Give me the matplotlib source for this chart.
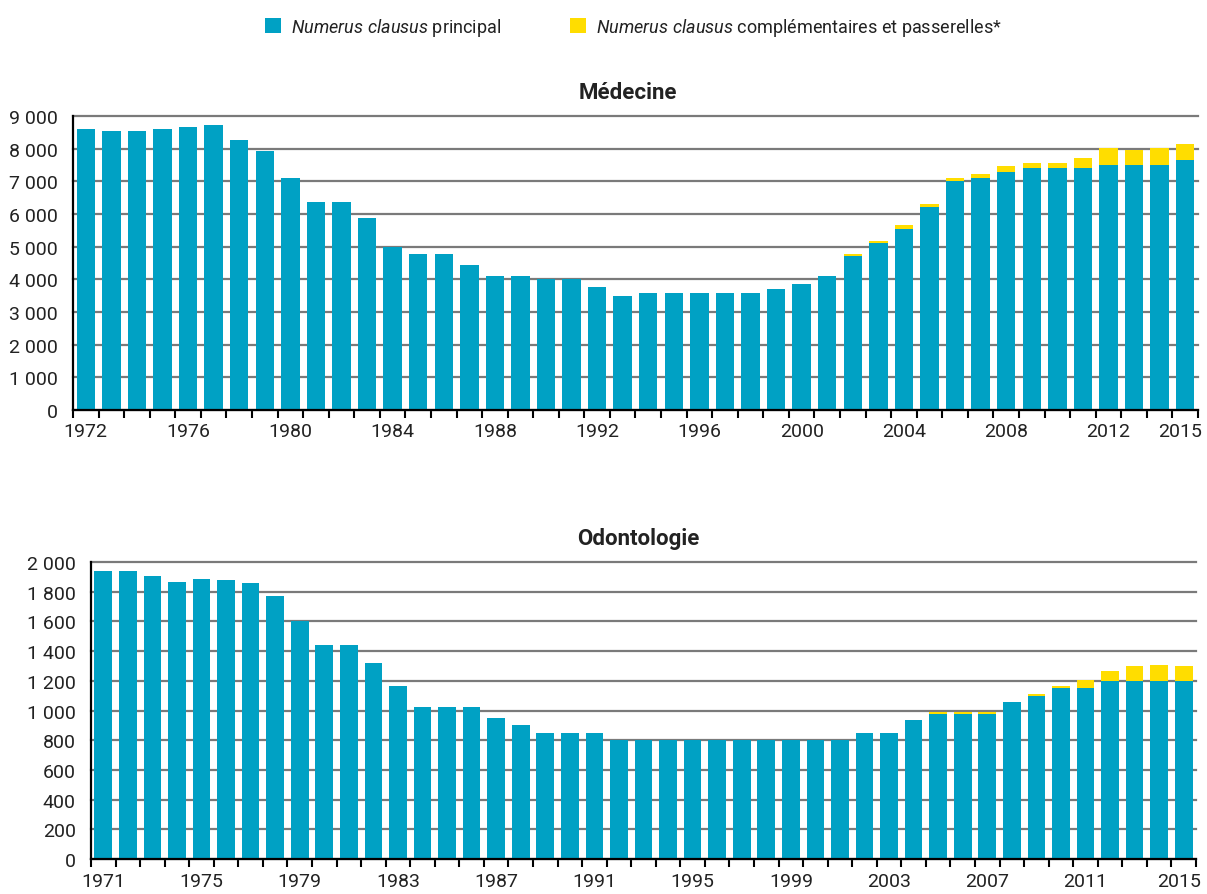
import matplotlib
matplotlib.use("Agg")
import matplotlib.pyplot as plt
import matplotlib.transforms as mtransforms
import numpy as np
from matplotlib.ticker import FixedLocator, FuncFormatter

# Médecine, 1972-2015
med_years = list(range(1972, 2016))
med_principal = [8588, 8550, 8550, 8600, 8660, 8730, 8260, 7930, 7100, 6380,
                 6380, 5880, 5000, 4760, 4760, 4450, 4100, 4100, 4000, 4000,
                 3750, 3500, 3570, 3570, 3570, 3570, 3570, 3700, 3850, 4100,
                 4700, 5100, 5550, 6200, 7000, 7100, 7300, 7400, 7400, 7400,
                 7500, 7500, 7500, 7640]
med_compl = [0] * 30 + [60, 60, 100, 110, 110, 120, 160, 150, 150, 320,
                        510, 470, 510, 490]
med_labels = [1972, 1976, 1980, 1984, 1988, 1992, 1996, 2000, 2004, 2008, 2012, 2015]

# Odontologie, 1971-2015
odo_years = list(range(1971, 2016))
odo_principal = [1940, 1940, 1905, 1865, 1885, 1880, 1860, 1770, 1600, 1440,
                 1440, 1320, 1165, 1025, 1025, 1025, 950, 900, 850, 850,
                 850, 800, 800, 800, 800, 800, 800, 800, 800, 800,
                 800, 850, 850, 935, 977, 977, 977, 1055, 1100, 1155,
                 1155, 1200, 1200, 1200, 1200]
odo_compl = [0] * 34 + [12, 12, 12, 0, 10, 10, 50, 65, 100, 108, 100]
odo_labels = [1971, 1975, 1979, 1983, 1987, 1991, 1995, 1999, 2003, 2007, 2011, 2015]

BLUE = "#00a1c4"
YELLOW = "#ffdd00"
GRID = "#7a7a7a"
TXT = "#222222"

plt.rcParams["font.family"] = ["Roboto", "DejaVu Sans"]
plt.rcParams["mathtext.fontset"] = "custom"
plt.rcParams["mathtext.it"] = "Roboto:italic"
plt.rcParams["mathtext.rm"] = "Roboto"
plt.rcParams["text.color"] = TXT

fig = plt.figure(figsize=(12.07, 8.95), dpi=100)
ax1 = fig.add_axes([0.0605, 0.5408, 0.932, 0.3285])
ax2 = fig.add_axes([0.0754, 0.0391, 0.9155, 0.3318])


def thousands(v, pos):
    return f"{int(v):,}".replace(",", " ")


def draw(ax, years, principal, compl, labels, ymax, ystep, title, title_x):
    years = np.array(years)
    principal = np.array(principal)
    compl = np.array(compl)
    ax.bar(years, principal, width=0.72, color=BLUE, zorder=2,
           label=r"$\it{Numerus\ clausus}$ principal")
    ax.bar(years, compl, width=0.72, bottom=principal, color=YELLOW, zorder=2,
           label=r"$\it{Numerus\ clausus}$ complémentaires et passerelles*")
    ax.set_xlim(years[0] - 0.5, years[-1] + 0.5)
    ax.set_ylim(0, ymax)
    ax.set_yticks(np.arange(0, ymax + 1, ystep))
    ax.yaxis.set_major_formatter(FuncFormatter(thousands))
    ax.set_xticks(labels)
    ax.xaxis.set_minor_locator(FixedLocator(np.arange(years[0] - 0.5, years[-1] + 1, 1)))
    ax.tick_params(axis="x", which="major", length=0, pad=9, labelsize=14, labelcolor=TXT)
    ax.tick_params(axis="x", which="minor", length=6, width=1.5, direction="out", color="black")
    ax.tick_params(axis="y", length=0, pad=11, labelsize=14, labelcolor=TXT)
    ax.grid(axis="y", color=GRID, linewidth=1.6)
    ax.set_axisbelow(True)
    for gl in ax.get_ygridlines():
        gl.set_clip_on(False)
    for s in ["top", "right"]:
        ax.spines[s].set_visible(False)
    for s in ["left", "bottom"]:
        ax.spines[s].set_linewidth(1.6)
        ax.spines[s].set_zorder(3)
    ax.set_title(title, fontsize=16, fontweight="bold", pad=13, x=title_x)
    # keep the last year label inside the figure
    last = ax.get_xticklabels()[-1]
    last.set_transform(last.get_transform() +
                       mtransforms.ScaledTranslation(-5 / 100, 0, fig.dpi_scale_trans))


draw(ax1, med_years, med_principal, med_compl, med_labels, 9000, 1000, "Médecine", 0.493)
draw(ax2, odo_years, odo_principal, odo_compl, odo_labels, 2000, 200, "Odontologie", 0.495)

handles, lbls = ax1.get_legend_handles_labels()
fig.legend(handles, lbls, loc="center", bbox_to_anchor=(0.525, 0.969), ncol=2,
           frameon=False, fontsize=13, handlelength=0.85, handleheight=0.85,
           handletextpad=0.6, columnspacing=3.8)

fig.savefig("out.png", dpi=100)
